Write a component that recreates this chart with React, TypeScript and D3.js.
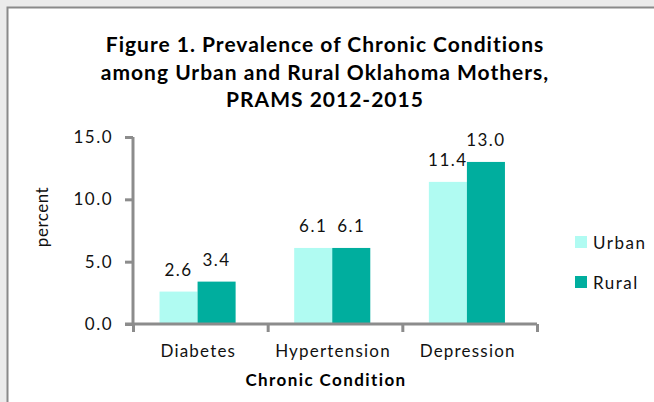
import React, { useEffect, useRef } from 'react';
import * as d3 from 'd3';

const categories = ['Diabetes', 'Hypertension', 'Depression'];
const seriesNames = ['Urban', 'Rural'];
const urbanValues = [2.6, 6.1, 11.4];
const ruralValues = [3.4, 6.1, 13.0];
const yTicks = [0, 5, 10, 15];
const titleLines = [
  'Figure 1. Prevalence of Chronic Conditions',
  'among Urban and Rural Oklahoma Mothers,',
  'PRAMS 2012-2015',
];

const colors = ['#b0fbf2', '#00ae9e'];
const font = 'Lato, "Open Sans", sans-serif';

export default function App() {
  const svgRef = useRef<SVGSVGElement>(null);

  useEffect(() => {
    if (!svgRef.current) return;
    const svg = d3.select(svgRef.current);
    svg.selectAll('*').remove();

    // outer frame
    svg.append('rect').attr('width', 654).attr('height', 402).attr('fill', '#ebebeb');
    svg.append('rect')
      .attr('x', 7.5).attr('y', 7.5).attr('width', 660).attr('height', 410)
      .attr('fill', '#fff').attr('stroke', '#8a8a8a').attr('stroke-width', 2);

    // title
    svg.append('text')
      .attr('x', 325).attr('y', 52)
      .attr('text-anchor', 'middle')
      .attr('font-family', font).attr('font-weight', 'bold').attr('font-size', 21)
      .attr('letter-spacing', 1)
      .selectAll('tspan')
      .data(titleLines)
      .enter()
      .append('tspan')
      .attr('x', 325)
      .attr('dy', (_, i) => (i === 0 ? 0 : 27.5))
      .text(d => d);

    const left = 133, right = 537, top = 137, bottom = 324;
    const y = d3.scaleLinear().domain([0, 15]).range([bottom, top]);
    const x0 = d3.scaleBand().domain(categories).range([left, right]).padding(0);
    const bw = x0.bandwidth();
    const x1 = d3.scaleBand().domain(seriesNames).range([bw * 0.197, bw * 0.762]).padding(0);

    const data = categories.map((c, i) => ({ c, vals: [urbanValues[i], ruralValues[i]] }));

    const groups = svg.append('g')
      .selectAll('g')
      .data(data)
      .enter()
      .append('g')
      .attr('transform', d => `translate(${x0(d.c)},0)`);

    groups.selectAll('rect')
      .data(d => d.vals.map((v, j) => ({ s: seriesNames[j], v, j })))
      .enter()
      .append('rect')
      .attr('x', d => x1(d.s)!)
      .attr('y', d => y(d.v))
      .attr('width', x1.bandwidth())
      .attr('height', d => y(0) - y(d.v))
      .attr('fill', d => colors[d.j]);

    groups.selectAll('text')
      .data(d => d.vals.map((v, j) => ({ s: seriesNames[j], v })))
      .enter()
      .append('text')
      .attr('x', d => x1(d.s)! + x1.bandwidth() / 2)
      .attr('y', d => y(d.v) - 16)
      .attr('text-anchor', 'middle')
      .attr('font-family', font).attr('font-size', 17)
      .attr('letter-spacing', 1.5)
      .attr('fill', '#111')
      .text(d => d.v.toFixed(1));

    // y axis
    const yAxis = svg.append('g')
      .attr('transform', `translate(${left},0)`)
      .call(d3.axisLeft(y).tickValues(yTicks).tickSize(8).tickPadding(12).tickFormat(d3.format('.1f')));
    yAxis.selectAll('path, line').attr('stroke', '#8c8c8c').attr('stroke-width', 3);
    yAxis.select('.domain').attr('d', `M0,${top}V${bottom}`);
    yAxis.selectAll('text').attr('font-family', font).attr('font-size', 17)
      .attr('letter-spacing', 1.5).attr('fill', '#111');

    // x axis (ticks at category boundaries)
    const xb = d3.scaleLinear().domain([0, categories.length]).range([left, right]);
    const xAxis = svg.append('g')
      .attr('transform', `translate(0,${bottom})`)
      .call(d3.axisBottom(xb).tickValues(d3.range(categories.length + 1)).tickSize(8).tickFormat(() => ''));
    xAxis.selectAll('path, line').attr('stroke', '#8c8c8c').attr('stroke-width', 3);
    xAxis.select('.domain').attr('d', `M${left - 8},0H${right}`);

    svg.append('g')
      .selectAll('text')
      .data(categories)
      .enter()
      .append('text')
      .attr('x', d => x0(d)! + bw / 2 - 2)
      .attr('y', 357)
      .attr('text-anchor', 'middle')
      .attr('font-family', font).attr('font-size', 17)
      .attr('letter-spacing', 1.2)
      .attr('fill', '#111')
      .text(d => d);

    svg.append('text')
      .attr('x', 326).attr('y', 386)
      .attr('text-anchor', 'middle')
      .attr('font-family', font).attr('font-weight', 'bold').attr('font-size', 17)
      .attr('letter-spacing', 1.4)
      .text('Chronic Condition');

    svg.append('text')
      .attr('transform', 'translate(48,217) rotate(-90)')
      .attr('text-anchor', 'middle')
      .attr('font-family', font).attr('font-size', 17)
      .attr('letter-spacing', 0.5)
      .attr('fill', '#111')
      .text('percent');

    // legend
    const legend = svg.append('g')
      .selectAll('g')
      .data(seriesNames)
      .enter()
      .append('g')
      .attr('transform', (_, i) => `translate(575,${236 + i * 40})`);
    legend.append('rect').attr('width', 12).attr('height', 12).attr('fill', (_, i) => colors[i]);
    legend.append('text')
      .attr('x', 18).attr('y', 13)
      .attr('font-family', font).attr('font-size', 17)
      .attr('letter-spacing', 1.5)
      .attr('fill', '#111')
      .text(d => d);
  }, []);

  return (
    <svg
      ref={svgRef}
      width={654}
      height={402}
      style={{ position: 'absolute', left: 0, top: 0, display: 'block' }}
    />
  );
}
